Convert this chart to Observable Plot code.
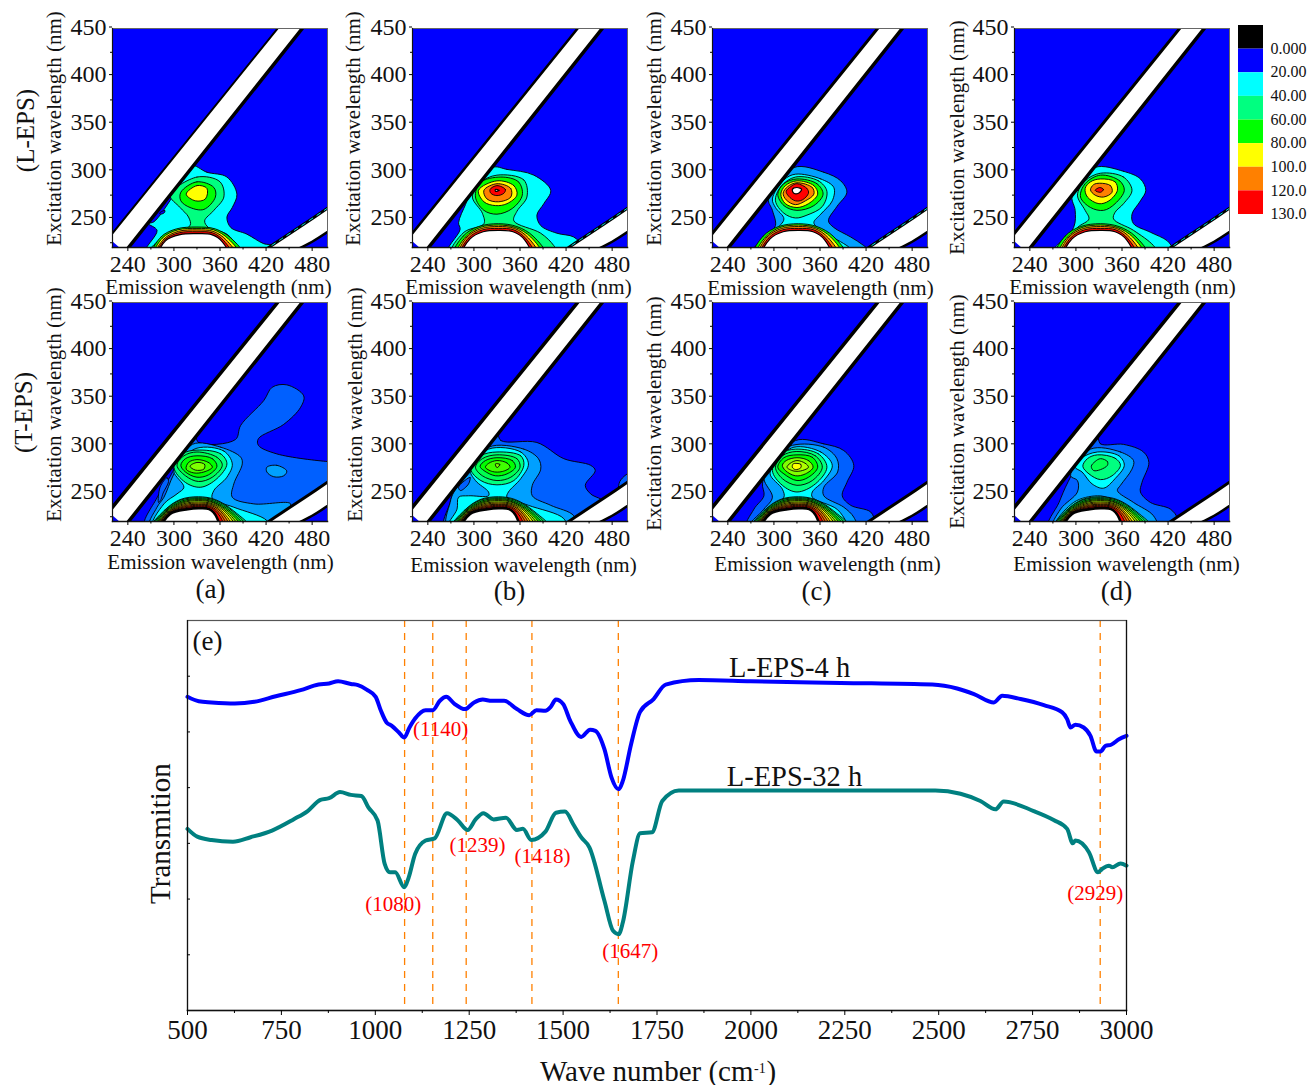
<!DOCTYPE html>
<html>
<head>
<meta charset="utf-8">
<script src="https://cdn.jsdelivr.net/npm/d3@7"></script>
<script src="https://cdn.jsdelivr.net/npm/@observablehq/plot@0.6"></script>
<style>
  html, body { margin: 0; padding: 0; background: #fff; }
  #page { position: relative; width: 1310px; height: 1085px; overflow: hidden; }
  #page svg { position: absolute; overflow: visible; background: transparent; }
</style>
</head>
<body>
<div id="page"></div>
<script>
// ---------- Data ----------
const emissionTicks = [240, 300, 360, 420, 480];
const emissionMinor = [270, 330, 390, 450];
const excitationTicks = [250, 300, 350, 400, 450];
const excitationMinor = [225, 275, 325, 375, 425];

const legendLabels = ["0.000", "20.00", "40.00", "60.00", "80.00", "100.0", "120.0", "130.0"];
const legendLevels = [0, 10, 30, 40, 50, 80, 100, 120];

const levelValues = [0, 10, 15, 18, 30, 40, 45, 50, 55, 60, 65, 80, 90, 100, 110, 120, 130, 200];
const levelColors = ["#000000", "#0000ff", "#0060ff", "#00a0ff", "#00ffff", "#00ff80", "#00ff50", "#00ff00",
  "#40ff00", "#80ff00", "#b0ff00", "#ffff00", "#ffc000", "#ff8000", "#ff5000", "#ff0000", "#c00000", "#ffffff"];

// Rayleigh band edges (emission, excitation)
const bandUpper = [[215, 230], [440, 455]];
const bandLower = [[236, 215], [472, 455]];
const secondUpper = [[418, 217], [440, 229], [470, 245], [505, 264]];
const secondLower = [[455, 216], [480, 226], [505, 239]];

// Scatter hump, L-EPS row
const humpLa = [
  [50, [[272, 212], [283, 231], [303, 239.5], [330, 241.5], [354, 239.5], [374, 230], [390, 212]]],
  [80, [[275, 212], [285, 230], [305, 238.5], [330, 240], [352, 238.5], [371, 229], [385, 212]]],
  [100, [[277, 212], [287, 229], [306, 237], [330, 238.5], [351, 237], [368, 228], [380, 212]]],
  [120, [[279, 212], [288, 228], [307, 235.5], [330, 236.5], [350, 235.5], [365, 227], [375, 212]]],
  [200, [[281, 212], [289, 227], [308, 233.5], [330, 234.5], [349, 233.5], [363, 226], [370, 212]]]
];
const humpL = [
  [50, [[274, 212], [286, 232], [306, 242], [332, 245], [356, 242], [377, 232], [393, 212]]],
  [80, [[278, 212], [289, 231], [308, 241], [332, 243.5], [354, 241], [374, 231], [388, 212]]],
  [100, [[281, 212], [291, 231], [310, 240], [332, 242], [353, 240], [371, 230], [383, 212]]],
  [120, [[283, 212], [293, 230], [311, 238.5], [332, 240], [352, 238.5], [368, 229], [378, 212]]],
  [200, [[285, 212], [295, 229], [312, 236.5], [332, 238], [351, 236.5], [366, 228], [373, 212]]]
];
// Scatter hump, T-EPS row: tightly packed rings
const humpT = [
  [40, [[270, 212], [288, 232], [308, 243], [332, 246], [354, 243], [378, 231], [400, 212]]],
  [45, [[272, 212], [289, 232], [309, 242.5], [332, 245], [353, 242.5], [376, 231], [396, 212]]],
  [50, [[274, 212], [290, 231.5], [310, 241.5], [332, 244], [352, 241.5], [374, 230.5], [392, 212]]],
  [60, [[276, 212], [291, 231], [311, 240.5], [332, 243], [351, 240.5], [372, 230], [388, 212]]],
  [65, [[277, 212], [292, 230.5], [312, 239.7], [332, 242], [351, 239.7], [370, 229.5], [384, 212]]],
  [80, [[278, 212], [292.5, 230], [313, 238.7], [332, 240.5], [350, 238.7], [368, 229], [380, 212]]],
  [90, [[279, 212], [293, 229.7], [314, 237.8], [332, 239.3], [349.5, 237.8], [366, 228], [376, 212]]],
  [100, [[280, 212], [293.5, 229.3], [315, 236.8], [332, 238], [349, 236.8], [364, 227.5], [372, 212]]],
  [110, [[281, 212], [294, 229], [316, 235.8], [332, 237], [348, 235.8], [362, 226.5], [368, 212]]],
  [120, [[282, 212], [294.5, 228.5], [317, 234.8], [332, 236], [347.5, 234.8], [360, 225.5], [364, 212]]],
  [200, [[284, 212], [295, 228], [318, 233], [332, 234], [346, 233], [356, 224], [358, 212]]]
];

const ringsLa = [
  [30, [[322, 306], [343, 299], [369, 294], [382, 276], [376, 262], [369, 252], [374, 241], [395, 234], [417, 224], [430, 222], [438, 212], [262, 212], [278, 238], [267, 245], [274, 247], [298, 273]]],
  [10, [[281, 256], [288, 259], [288, 257], [283, 255]]],
  [40, [[295, 275], [330, 294], [360, 289], [365, 273], [352, 259], [340, 248], [345, 241], [369, 234], [384, 220], [392, 212], [266, 212], [291, 234], [321, 243], [319, 252], [308, 262]]],
  [50, [[309, 278], [330, 289], [352, 283], [354, 273], [339, 260], [321, 262], [309, 269]]],
  [80, [[316, 276], [330, 285], [343, 282], [341, 271], [328, 269]]]
];
const ringsLb = [
  [30, [[324, 304], [343, 302], [378, 296], [400, 280], [391, 266], [382, 254], [387, 243], [408, 235], [430, 231], [440, 222], [440, 212], [265, 212], [282, 239], [280, 246], [289, 265], [293, 272]]],
  [40, [[330, 296], [365, 291], [369, 273], [356, 258], [352, 248], [387, 235], [404, 222], [410, 212], [270, 212], [287, 236], [313, 245], [311, 256], [298, 273], [308, 288]]],
  [50, [[335, 294], [358, 289], [363, 275], [350, 261], [330, 255], [313, 259], [302, 273], [308, 288]]],
  [80, [[330, 290], [352, 285], [356, 275], [343, 266], [328, 264], [313, 268], [306, 280]]],
  [100, [[330, 287], [348, 282], [348, 273], [332, 268], [317, 271], [313, 280]]],
  [120, [[330, 285], [341, 281], [339, 277], [330, 274.5], [322, 277], [321, 281]]],
  [200, [[328, 281], [333, 280], [328, 279]]]
];
const ringsLc = [
  [18, [[326, 304], [365, 299], [387, 290], [395, 278], [382, 263], [371, 248], [378, 241], [400, 231], [417, 222], [430, 212], [268, 212], [291, 232], [302, 243], [298, 259], [293, 271]]],
  [30, [[328, 297], [361, 292], [378, 283], [376, 269], [361, 255], [352, 246], [363, 237], [387, 226], [400, 219], [408, 212], [280, 212], [302, 238], [313, 250], [302, 262], [298, 271], [313, 291]]],
  [40, [[328, 294], [358, 290], [369, 279], [363, 263], [343, 254], [328, 251], [313, 256], [302, 269], [309, 284]]],
  [50, [[330, 292], [356, 287], [364, 276], [352, 264], [330, 259], [313, 264], [305, 276], [313, 287]]],
  [80, [[330, 290], [352, 285], [357, 276], [345, 266], [330, 262], [315, 266], [309, 276], [315, 285]]],
  [100, [[330, 288], [350, 283], [352, 276], [341, 269], [328, 265], [316, 270], [312, 277], [318, 284]]],
  [120, [[330, 287], [343, 282], [345, 277], [337, 270], [328, 269], [319, 274], [316, 279], [322, 284]]],
  [200, [[330, 283], [336, 281], [332, 277], [326, 277], [324, 281]]]
];
const ringsLd = [
  [30, [[325, 304], [362, 300], [384, 292], [391, 280], [384, 269], [373, 255], [375, 245], [397, 236], [419, 227], [427, 218], [430, 212], [268, 212], [297, 241], [299, 259], [295, 273], [306, 283]]],
  [40, [[332, 298], [362, 294], [373, 280], [362, 266], [351, 257], [349, 250], [375, 238], [401, 222], [408, 212], [272, 212], [302, 241], [317, 250], [312, 259], [302, 275], [312, 290]]],
  [50, [[332, 296], [357, 290], [363, 280], [351, 266], [336, 259], [319, 262], [306, 273], [312, 287]]],
  [80, [[332, 292], [351, 289], [354, 280], [343, 269], [330, 266], [315, 273], [312, 282], [319, 289]]],
  [100, [[331, 287.5], [345, 285], [347, 278], [336, 273], [325, 275], [319, 280.5], [323, 286]]],
  [120, [[331, 283], [336, 281], [332, 278], [325, 280]]]
];
const ringsTa = [
  [15, [[326, 316], [332, 303], [380, 306], [387, 321], [417, 347], [428, 361], [447, 363.5], [469, 352], [465, 340], [443, 322], [410, 307], [410, 300], [434, 291], [500, 283], [506, 283], [506, 252], [450, 221], [444, 212], [262, 212], [278, 245], [295, 267]]],
  [18, [[421, 277], [434, 279], [447, 273], [443, 268], [430, 267], [421, 272]]],
  [18, [[324, 301], [361, 298], [387, 287.5], [389, 280.5], [378, 259.5], [376, 245.5], [404, 238.5], [452, 238.5], [440, 224], [428, 212], [268, 212], [278, 235], [287, 245.5], [300, 270]]],
  [15, [[282, 256], [291, 266], [293, 262], [286, 250], [283, 243], [280, 240]]],
  [30, [[330, 297], [365, 294], [376, 280.5], [369, 266.5], [352, 252.5], [350, 244], [378, 235], [421, 221], [425, 212], [272, 212], [287, 238.5], [304, 249], [313, 256], [300, 272], [304, 280.5]]],
  [40, [[330, 295], [361, 291], [369, 280.5], [356, 265], [335, 256], [315, 261], [300, 277], [311, 291]]],
  [45, [[330, 293], [356, 287.5], [363, 279], [350, 266.5], [332, 262], [315, 268], [304, 279], [313, 289]]],
  [50, [[330, 289], [350, 286], [356, 278], [345, 269], [330, 266.5], [315, 272], [309, 279], [315, 286]]],
  [55, [[330, 285], [345, 282], [350, 277], [339, 272], [326, 271], [316, 275], [319, 282]]],
  [60, [[330, 282], [340, 280], [339, 275], [328, 274], [321, 278]]]
];
const ringsTb = [
  [15, [[329, 316], [335, 305], [382, 303], [417, 286], [452, 279], [458, 273.5], [445, 258], [452, 249], [470, 240], [450, 221], [444, 212], [262, 212], [269, 240], [278, 262], [300, 280]]],
  [15, [[490, 262], [506, 272], [506, 252], [490, 245]]],
  [18, [[319, 298], [365, 296], [384, 286], [387, 275], [376, 258], [376, 247], [400, 237], [430, 226], [432, 212], [266, 212], [269, 240], [274, 251], [295, 272]]],
  [15, [[280, 256], [295, 266.5], [293, 259.5], [282.5, 252.5]]],
  [30, [[319, 296], [361, 293], [371, 280.5], [361, 265], [345, 251], [343, 245.5], [371, 237], [417, 223], [420, 212], [266, 212], [278, 233], [280, 245.5], [293, 247], [319, 247], [319, 251], [302, 263], [295, 275]]],
  [40, [[330, 293], [361, 289], [365, 279], [352, 263], [330, 258.5], [309, 263], [296, 275], [309, 289]]],
  [45, [[330, 290], [356, 286], [360, 277], [348, 266.5], [330, 263], [311, 268], [302, 277], [311, 286]]],
  [50, [[330, 287], [350, 284], [354, 277], [343, 270], [328, 268], [313, 273.5], [308, 278], [315, 284]]],
  [55, [[330, 284], [343, 281.5], [347, 277], [337, 272.5], [324, 272.5], [315, 277], [319, 281]]],
  [60, [[328, 280.5], [334, 280], [330, 276.5]]]
];
const ringsTc = [
  [15, [[328, 305], [365, 301.5], [391, 294.5], [404, 279], [395, 261], [389, 247], [400, 237], [426, 230], [432, 219], [434, 212], [264, 212], [274, 233], [287, 247], [285, 259.5], [290, 270]]],
  [18, [[324, 300], [365, 298], [382, 286], [383, 272], [365, 256], [365, 247], [391, 235], [404, 224.5], [408, 212], [266, 212], [287, 233], [298, 245.5], [287, 265], [295, 285]]],
  [30, [[326, 298], [361, 293], [376, 279], [365, 263], [350, 251], [350, 245.5], [382, 233], [395, 219], [400, 212], [272, 212], [295, 235], [313, 245.5], [311, 254], [295, 270], [305, 285]]],
  [40, [[328, 296], [358, 291], [369, 277], [354, 259.5], [330, 251], [311, 258], [298, 273.5], [309, 291]]],
  [45, [[329, 293.5], [354, 289], [363, 277], [350, 263], [330, 258], [311, 265], [302, 277], [311, 289]]],
  [50, [[330, 290], [350, 287.5], [357, 277], [345, 266.5], [330, 263], [313, 270], [305, 277], [313, 287]]],
  [60, [[330, 287], [345, 284], [351, 277], [341, 270], [328, 268], [315, 273.5], [311, 279], [316, 284]]],
  [65, [[330, 284], [341, 281], [345, 277], [337, 273.5], [326, 273], [317, 277], [321, 281]]],
  [80, [[330, 281], [335, 280], [335, 276.5], [328, 274.5], [324, 277], [325, 280.5]]]
];
const ringsTd = [
  [15, [[327, 312], [332, 301.5], [362, 301], [388, 293], [395, 282], [386, 261], [384, 251], [397, 240], [423, 233], [432, 223], [427, 212], [264, 212], [278, 240], [290, 262]]],
  [18, [[319, 296], [358, 293], [375, 284], [373, 275], [358, 258], [354, 252.5], [375, 240], [401, 226], [406, 212], [270, 212], [280, 233], [302, 251], [302, 263], [293, 268]]],
  [30, [[328, 293], [356, 289], [363, 279], [351, 265], [336, 255], [321, 259.5], [308, 272], [299, 277], [306, 286]]],
  [30, [[328, 247], [345, 244], [375, 230], [388, 219], [392, 212], [272, 212], [297, 240]]],
  [40, [[328, 290], [351, 286.5], [358, 279], [347, 268], [332, 264], [317, 270], [309, 278], [315, 286]]],
  [45, [[332, 286], [341, 283], [341, 279], [332, 274.5], [323, 273.5], [320, 278], [325, 283]]]
];

// FTIR spectra (wave number, relative transmission)
const wave4h = [500, 530, 564, 626, 678, 735, 801, 849, 877, 901, 935, 954, 977, 1001, 1015, 1030, 1044, 1063, 1077, 1091, 1106, 1134, 1153, 1172, 1189, 1210, 1239, 1263, 1286, 1310, 1343, 1377, 1410, 1429, 1453, 1467, 1481, 1500, 1519, 1548, 1572, 1586, 1610, 1629, 1648, 1659, 1681, 1705, 1741, 1773, 1861, 1999, 2239, 2483, 2549, 2594, 2647, 2669, 2718, 2780, 2829, 2842, 2851, 2864, 2886, 2904, 2920, 2931, 2944, 2959, 2980, 3000];
const trans4h = [5.63, 5.55, 5.53, 5.51, 5.54, 5.64, 5.75, 5.85, 5.87, 5.91, 5.86, 5.84, 5.76, 5.63, 5.38, 5.17, 5.11, 4.99, 4.90, 5.08, 5.24, 5.39, 5.39, 5.56, 5.63, 5.51, 5.41, 5.53, 5.58, 5.56, 5.56, 5.41, 5.30, 5.39, 5.38, 5.45, 5.58, 5.50, 5.20, 4.91, 5.04, 5.02, 4.69, 4.18, 3.97, 4.12, 4.78, 5.36, 5.59, 5.85, 5.93, 5.91, 5.88, 5.85, 5.78, 5.68, 5.53, 5.65, 5.59, 5.48, 5.35, 5.23, 5.08, 5.13, 5.08, 4.93, 4.65, 4.65, 4.75, 4.77, 4.87, 4.93];
const wave32h = [500, 526, 564, 621, 668, 725, 782, 820, 854, 877, 906, 935, 963, 982, 1006, 1025, 1039, 1053, 1077, 1089, 1106, 1134, 1158, 1191, 1220, 1246, 1267, 1288, 1315, 1348, 1377, 1393, 1415, 1453, 1481, 1505, 1529, 1548, 1570, 1610, 1633, 1648, 1659, 1686, 1705, 1737, 1764, 1808, 2491, 2558, 2611, 2651, 2673, 2753, 2806, 2842, 2857, 2864, 2900, 2924, 2935, 2953, 2962, 2984, 3000];
const trans32h = [3.26, 3.12, 3.06, 3.03, 3.11, 3.23, 3.43, 3.58, 3.78, 3.81, 3.92, 3.87, 3.85, 3.64, 3.41, 2.63, 2.48, 2.48, 2.21, 2.39, 2.81, 3.05, 3.09, 3.54, 3.41, 3.24, 3.43, 3.54, 3.43, 3.46, 3.24, 3.26, 3.06, 3.21, 3.55, 3.57, 3.32, 3.11, 2.93, 1.97, 1.43, 1.37, 1.58, 2.69, 3.18, 3.20, 3.76, 3.95, 3.95, 3.89, 3.76, 3.61, 3.75, 3.58, 3.42, 3.26, 3.00, 3.05, 2.84, 2.48, 2.54, 2.60, 2.57, 2.64, 2.60];
const peakWaves = [1078, 1153, 1242, 1417, 1647, 2930];
const peakLabels = ["(1140)", "(1239)", "(1418)", "(1080)", "(1647)", "(2929)"];
const peakLabelX = [1174, 1272, 1445, 1048, 1679, 2917];
const peakLabelY = [5.04, 2.96, 2.76, 1.90, 1.06, 2.11];
const seriesNames = ["L-EPS-4 h", "L-EPS-32 h"];
const seriesNameX = [2103, 2116];
const seriesNameY = [6.15, 4.19];
const waveTicks = [500, 750, 1000, 1250, 1500, 1750, 2000, 2250, 2500, 2750, 3000];
const waveMinor = [625, 875, 1125, 1375, 1625, 1875, 2125, 2375, 2625, 2875];
const transTicks = [1, 2, 3, 4, 5, 6];

// ---------- Layout ----------
const FONT = "'Liberation Serif', 'Times New Roman', serif";
const page = document.getElementById("page");
const levelColor = d3.scaleOrdinal(levelValues, levelColors);
const xy = {x: d => d[0], y: d => d[1]};
const ML = 80, MR = 30, MT = 10, MB = 90, PW = 215, PH = 219;

const panels = [
  {left: 112, top: 28, rings: ringsLa, hump: humpLa, row: 0, em: [218, 287], ex: [54, 128], edge: 2, side: ["(L-EPS)", 25, 130]},
  {left: 412, top: 28, rings: ringsLb, hump: humpL, row: 0, em: [518, 287], ex: [353, 128], edge: 2.5},
  {left: 712, top: 28, rings: ringsLc, hump: humpL, row: 0, em: [820, 288], ex: [654, 128], edge: 3},
  {left: 1014, top: 28, rings: ringsLd, hump: humpL, row: 0, em: [1122, 287], ex: [957, 137], edge: 3},
  {left: 112, top: 302, rings: ringsTa, hump: humpT, row: 1, em: [220, 562], ex: [54, 404], edge: 3.5, side: ["(T-EPS)", 23, 412], tag: ["(a)", 210, 589]},
  {left: 412, top: 302, rings: ringsTb, hump: humpT, row: 1, em: [523, 565], ex: [355, 404], edge: 3.5, tag: ["(b)", 509, 591]},
  {left: 712, top: 302, rings: ringsTc, hump: humpT, row: 1, em: [827, 564], ex: [654, 413], edge: 3.5, tag: ["(c)", 816, 591]},
  {left: 1014, top: 302, rings: ringsTd, hump: humpT, row: 1, em: [1126, 564], ex: [957, 411], edge: 3.5, tag: ["(d)", 1116, 591]}
];

function place(svg, left, top) {
  svg.style.left = left + "px";
  svg.style.top = top + "px";
  page.appendChild(svg);
}

function panel(p) {
  const centerX = p.left + PW / 2, centerY = p.top + PH / 2;
  const ringMark = ([level, points]) => Plot.line(points, {
    ...xy, curve: "catmull-rom-closed", fill: levelColor(level), stroke: "black",
    strokeWidth: level === 200 ? (p.row === 1 ? 2.6 : 1.2) : 0.9, clip: true
  });
  const at = (text, cx, cy, fontSize, rotate) => Plot.text([text], {
    frameAnchor: "middle", text: d => d, fontSize, rotate: rotate || 0, fill: "#111",
    dx: cx - centerX, dy: cy - centerY
  });
  const marks = [
    Plot.frame({fill: "#0000ff", stroke: null}),
    ...p.rings.map(ringMark),
    ...p.hump.map(ringMark),
    // first order Rayleigh band
    Plot.line([...bandUpper, ...bandLower.slice().reverse()], {...xy, fill: "white", stroke: null, clip: true}),
    Plot.line(bandUpper, {...xy, stroke: "black", strokeWidth: p.edge, clip: true}),
    Plot.line(bandLower, {...xy, stroke: "black", strokeWidth: 3.5, clip: true}),
    // second order band
    Plot.line([...secondUpper, ...secondLower.slice().reverse()], {...xy, fill: "white", stroke: null, clip: true}),
    Plot.line(secondUpper, {...xy, stroke: "black", strokeWidth: 3, curve: "catmull-rom", clip: true}),
    Plot.line(secondLower, {...xy, stroke: "black", strokeWidth: 2.5, curve: "catmull-rom", clip: true}),
    p.row === 0 ? Plot.line(secondUpper, {...xy, stroke: "#00ffff", strokeWidth: 0.9, strokeDasharray: "4,5", curve: "catmull-rom", clip: true}) : null,
    Plot.frame({stroke: "#666", strokeWidth: 1}),
    Plot.frame({anchor: "left", stroke: "#111", strokeWidth: 1.2}),
    Plot.frame({anchor: "bottom", stroke: "#111", strokeWidth: 1.5}),
    Plot.axisX(emissionTicks, {tickSize: 4, tickPadding: 3, label: null, fill: "#111"}),
    Plot.axisX(emissionMinor, {tickSize: 2.5, tickFormat: () => "", label: null}),
    Plot.axisY(excitationTicks, {tickSize: 3, tickPadding: 3, dy: -1.5, label: null, fill: "#111"}),
    Plot.axisY(excitationMinor, {tickSize: 2, tickFormat: () => "", label: null}),
    at("Emission wavelength (nm)", p.em[0], p.em[1], 21),
    at("Excitation wavelength (nm)", p.ex[0], p.ex[1], 21, -90)
  ];
  if (p.side) marks.push(at(p.side[0], p.side[1], p.side[2], 25, -90));
  if (p.tag) marks.push(at(p.tag[0], p.tag[1], p.tag[2], 27));
  const svg = Plot.plot({
    width: ML + PW + MR, height: MT + PH + MB,
    marginLeft: ML, marginRight: MR, marginTop: MT, marginBottom: MB,
    x: {domain: [220, 500], axis: null},
    y: {domain: [220, 450], axis: null},
    style: {fontFamily: FONT, fontSize: "24px", background: "transparent", overflow: "visible"},
    marks
  });
  place(svg, p.left - ML, p.top - MT);
}
panels.forEach(panel);

// ---------- Colour legend ----------
(function legend() {
  const rows = legendLabels.map((label, i) => ({label, i, level: legendLevels[i]}));
  const svg = Plot.plot({
    width: 75, height: 189, margin: 0, marginRight: 50,
    x: {domain: [0, 1], axis: null},
    y: {domain: [0, 8], reverse: true, axis: null},
    style: {fontFamily: FONT, background: "transparent", overflow: "visible"},
    marks: [
      Plot.rect(rows, {x1: 0, x2: 1, y1: "i", y2: d => d.i + 1, fill: d => levelColor(d.level)}),
      Plot.text(rows, {x: 1, y: d => d.i + 1, text: "label", textAnchor: "start", dx: 7, dy: -0.5, fontSize: 16, fill: "#111"})
    ]
  });
  place(svg, 1238, 25);
})();

// ---------- FTIR panel ----------
(function ftir() {
  const row4h = wave4h.map((w, i) => ({w, t: trans4h[i]}));
  const row32h = wave32h.map((w, i) => ({w, t: trans32h[i]}));
  const L = 60, R = 40, T = 5, B = 80;
  const labels = peakLabels.map((label, i) => ({label, w: peakLabelX[i], t: peakLabelY[i]}));
  const names = seriesNames.map((label, i) => ({label, w: seriesNameX[i], t: seriesNameY[i]}));
  const titleMark = (text, fontSize, textAnchor, dx, dy) => Plot.text([text], {
    frameAnchor: "bottom", text: d => d, fontSize, textAnchor, dx, dy, fill: "#111"
  });
  const svg = Plot.plot({
    width: L + 939 + R, height: T + 390 + B,
    marginLeft: L, marginRight: R, marginTop: T, marginBottom: B,
    x: {domain: [500, 3000], axis: null},
    y: {domain: [0, 7], axis: null},
    style: {fontFamily: FONT, fontSize: "27px", background: "transparent", overflow: "visible"},
    marks: [
      Plot.ruleX(peakWaves, {stroke: "#ff8000", strokeWidth: 1.3, strokeDasharray: "7,6"}),
      Plot.line(row4h, {x: "w", y: "t", stroke: "#0000ff", strokeWidth: 4, curve: "monotone-x"}),
      Plot.line(row32h, {x: "w", y: "t", stroke: "#008080", strokeWidth: 4, curve: "monotone-x"}),
      Plot.text(labels, {x: "w", y: "t", text: "label", fill: "#ff0000", fontSize: 21}),
      Plot.text(names, {x: "w", y: "t", text: "label", fill: "#111", fontSize: 28.5}),
      Plot.text(["(e)"], {frameAnchor: "top-left", text: d => d, dx: 5, dy: 10, fontSize: 27, fill: "#111"}),
      Plot.frame({stroke: "#555", strokeWidth: 1.2}),
      Plot.frame({anchor: "bottom", stroke: "#111", strokeWidth: 1.5}),
      Plot.frame({anchor: "left", stroke: "#111", strokeWidth: 1.2}),
      Plot.frame({anchor: "right", stroke: "#111", strokeWidth: 1.2}),
      Plot.axisX(waveTicks, {tickSize: 5, tickPadding: 4, tickFormat: "d", label: null, fill: "#111"}),
      Plot.axisX(waveMinor, {tickSize: 3, tickFormat: () => "", label: null}),
      Plot.axisY(transTicks, {tickSize: -3, tickFormat: () => "", label: null}),
      titleMark("Wave number (cm", 29, "end", 96.5, 70),
      titleMark("-1", 14, "start", 97, 62),
      titleMark(")", 29, "start", 109.5, 70),
      Plot.text(["Transmition"], {frameAnchor: "left", text: d => d, textAnchor: "middle", rotate: -90, dx: -27, dy: 18, fontSize: 29, fill: "#111"})
    ]
  });
  place(svg, 187 - L, 620 - T);
})();
</script>
</body>
</html>
